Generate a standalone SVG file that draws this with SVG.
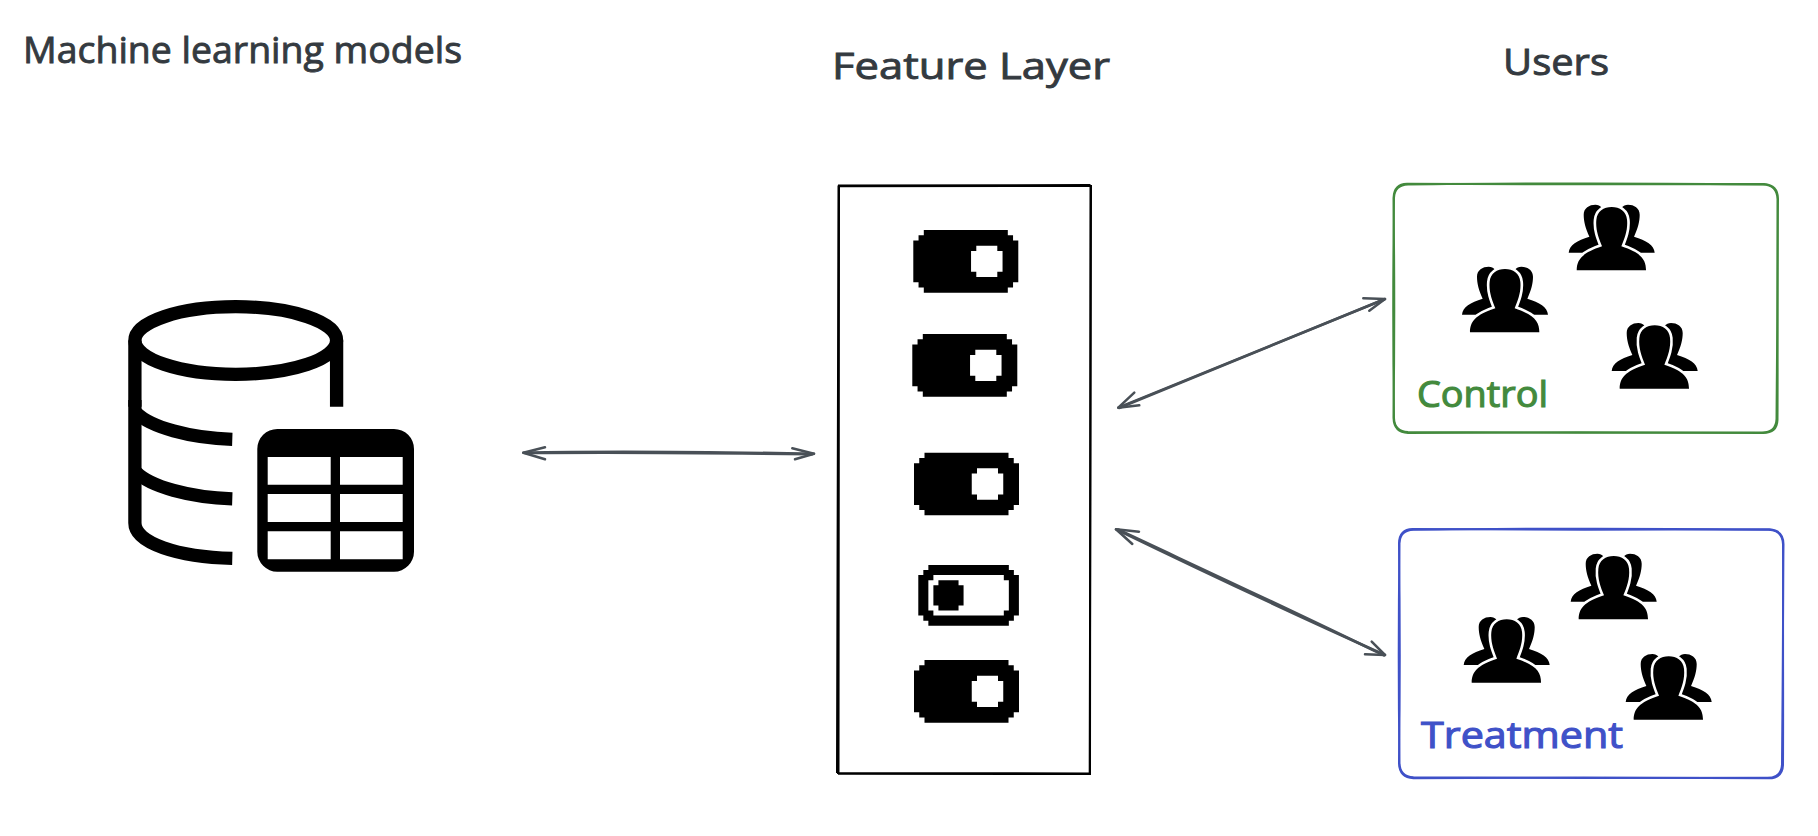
<svg xmlns="http://www.w3.org/2000/svg" width="1818" height="836" viewBox="0 0 1818 836">
<style>
.title{font-family:"Open Sans","Noto Sans",sans-serif;font-size:37px;fill:#343a40;stroke:#343a40;stroke-width:.9}
.lbl{font-family:"Open Sans","Noto Sans",sans-serif;font-size:36px;stroke-width:1.1}
.box{fill:none;stroke:#000;stroke-width:2}
.arrow{fill:none;stroke:#495057;stroke-width:2.5;stroke-linecap:round;stroke-linejoin:round}
.db{fill:none;stroke:#000;stroke-width:13.3}
.green{fill:none;stroke:#438a3d;stroke-width:2}
.blue{fill:none;stroke:#3f51c8;stroke-width:2}
</style>
<defs>
<path id="outline" d="M1408 184.5C1500 183 1680 183 1763 184.5Q1777 185 1777.5 199C1778 270 1777 350 1776.5 419Q1776 432.5 1762 432.5C1680 433 1500 433 1408 432Q1394.5 431.5 1394 418C1393 350 1393 270 1394 198Q1394.5 185 1408 184.5Z"/>
<path id="outline2" d="M1407 183.8C1500 184.5 1680 184.5 1764 184Q1778 185 1778 199C1777 270 1778 350 1777.5 420Q1777 433.5 1762 433C1680 432 1500 432 1408 433Q1394 432.5 1393.5 418C1394.5 350 1394.5 270 1393.5 198Q1394 184 1407 183.8Z"/>
<path id="on" fill-rule="evenodd" d="M2 0H18V1H19V2H20V10H19V11H18V12H2V11H1V10H0V2H1V1H2ZM12 3V4H11V8H12V9H16V8H17V4H16V3Z"/>
<path id="off" fill-rule="evenodd" d="M2 0H18V1H19V2H20V10H19V11H18V12H2V11H1V10H0V2H1V1H2ZM3 2V3H2V9H3V10H17V9H18V3H17V2ZM4 3H8V4H9V8H8V9H4V8H3V4H4Z"/>
<g id="people" transform="scale(.33333)">
<path d="M0 144C2 120 25 108 62 96C50 70 45 50 45 30C45 10 62 0 80 0C88 0 94 3 100 10L158 10C164 3 170 0 178 0C196 0 213 10 213 30C213 50 208 70 196 96C233 108 256 120 258 144Z" fill="#000"/>
<path d="M24 197C24 165 40 145 100 125C90 100 80 75 83 45C85 20 105 7 129 7C153 7 173 20 175 45C178 75 168 100 158 125C218 145 232 165 232 197Z" fill="#fff" stroke="#fff" stroke-width="16" stroke-linejoin="round"/>
<path d="M24 197C24 165 40 145 100 125C90 100 80 75 83 45C85 20 105 7 129 7C153 7 173 20 175 45C178 75 168 100 158 125C218 145 232 165 232 197Z" fill="#000"/>
</g>
</defs>
<rect width="1818" height="836" fill="#fff"/>

<g id="titles">
<text id="title-models" class="title" x="23" y="63" textLength="439" lengthAdjust="spacingAndGlyphs">Machine learning models</text>
<text id="title-feature" class="title" x="832" y="79" textLength="278" lengthAdjust="spacingAndGlyphs">Feature Layer</text>
<text id="title-users" class="title" x="1503" y="75" textLength="106" lengthAdjust="spacingAndGlyphs">Users</text>
</g>

<g id="connectors">
<g class="arrow">
<path d="M523.3 452.7C600 451 720 452 814 453.7"/>
<path d="M525 453C600 452.3 720 453 812 454.3"/>
<path d="M545 447.3L523.3 452.7L545 459.3"/>
<path d="M792.3 448.3L814 453.7L795 459.3"/>
<path d="M1118.3 407.7L1385 299"/>
<path d="M1119 408L1384 299.5"/>
<path d="M1134.3 392.7L1118.3 407.7L1139.3 405.3"/>
<path d="M1363.3 298.3L1385 299L1369.3 310.7"/>
<path d="M1116 529.3C1200 570 1300 617 1385 655"/>
<path d="M1118 529.5C1200 568 1300 614 1384 655.5"/>
<path d="M1139 531.7L1116 529.3L1132.3 544"/>
<path d="M1365 654.3L1385 655L1371.7 641.7"/>
</g>
</g>

<g id="database-icon">
<path class="db" d="M134.9 406.7V340.5C134.9 321.8 180 306.7 235.8 306.7S336.6 321.8 336.6 340.5V406.7"/>
<path class="db" d="M134.9 340.5C134.9 359.2 180 374.3 235.8 374.3S336.6 359.2 336.6 340.5"/>
<path class="db" d="M134.9 400V523C134.9 543 178 557 232.3 558.3"/>
<path class="db" d="M136 412.5C150 427 190 438 232.3 439.3"/>
<path class="db" d="M136 472C150 486.5 190 497.5 232.3 498.8"/>
<path fill="#000" fill-rule="evenodd" d="M277.3 429H394A20 20 0 0 1 414 449V551.7A20 20 0 0 1 394 571.7H277.3A20 20 0 0 1 257.3 551.7V449A20 20 0 0 1 277.3 429ZM267.7 457V484.7H330.7V457ZM340 457V484.7H402.7V457ZM267.7 494V522H330.7V494ZM340 494V522H402.7V494ZM267.7 531.3V559.3H330.7V531.3ZM340 531.3V559.3H402.7V531.3Z"/>
</g>

<g id="feature-layer">
<path class="box" d="M838 185.5L1090.5 185M1090.5 185L1090 773.5M1090 773.5L837 773M837 773L838.5 185.5"/>
<path class="box" d="M838 186.3L1091 186M1091 185L1089.7 773.5M1091 774L838 773.8M838.5 773L839 186"/>
<use id="toggle-1" href="#on" transform="translate(913.3 230) scale(5.25 5.22)"/>
<use id="toggle-2" href="#on" transform="translate(912.3 334) scale(5.25 5.22)"/>
<use id="toggle-3" href="#on" transform="translate(914 452.7) scale(5.25 5.22)"/>
<use id="toggle-4" href="#off" transform="translate(918.3 565) scale(5.03 5.06)"/>
<use id="toggle-5" href="#on" transform="translate(914 660) scale(5.25 5.22)"/>
</g>

<g id="control-group">
<use href="#outline" class="green"/>
<use href="#outline2" class="green"/>
<text class="lbl" x="1417" y="407" fill="#438a3d" stroke="#438a3d" textLength="131" lengthAdjust="spacingAndGlyphs">Control</text>
<use href="#people" transform="translate(1462 266.7)"/>
<use href="#people" transform="translate(1568.7 204.7)"/>
<use href="#people" transform="translate(1611.7 323)"/>
</g>

<g id="treatment-group">
<use href="#outline" class="blue" transform="translate(5.5 345.3)"/>
<use href="#outline2" class="blue" transform="translate(5.5 345.3)"/>
<text class="lbl" x="1421" y="747.5" fill="#3f51c8" stroke="#3f51c8" textLength="202" lengthAdjust="spacingAndGlyphs">Treatment</text>
<use href="#people" transform="translate(1463.7 617)"/>
<use href="#people" transform="translate(1570.7 553.7)"/>
<use href="#people" transform="translate(1625.7 654)"/>
</g>
</svg>
